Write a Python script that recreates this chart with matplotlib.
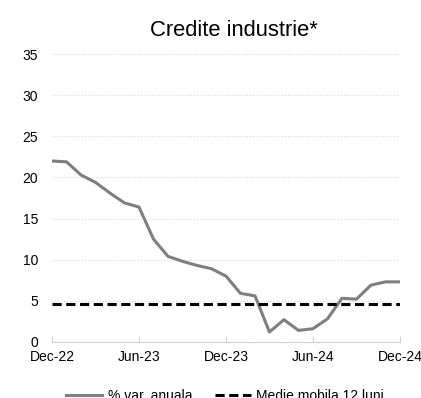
import pandas as pd
import matplotlib
matplotlib.use("Agg")
import matplotlib.pyplot as plt

plt.rcParams["font.family"] = ["Liberation Sans", "DejaVu Sans"]

months = pd.date_range("2022-12-01", "2024-12-01", freq="MS")
var_anuala = [22.0, 21.9, 20.3, 19.4, 18.1, 16.9, 16.4, 12.5, 10.4, 9.8, 9.3, 8.9,
              8.0, 5.9, 5.6, 1.2, 2.7, 1.4, 1.6, 2.8, 5.3, 5.2, 6.9, 7.3, 7.3]
medie_mobila = [4.55] * len(months)
tick_labels = ["Dec-22", "Jun-23", "Dec-23", "Jun-24", "Dec-24"]

fig = plt.figure(figsize=(4.21, 3.98), dpi=100)
ax = fig.add_axes([0.1235, 0.141, 0.8265, 0.723])

x = list(range(len(months)))
ax.plot(x, var_anuala, color="#7f7f7f", lw=2.2, label="% var. anuala")
ax.plot(x, medie_mobila, color="black", lw=2.2, ls=(0, (3, 1.5)), label="Medie mobila 12 luni")

ax.set_xlim(0, len(months) - 1)
ax.set_ylim(0, 35)
ax.set_yticks(range(0, 40, 5))
ax.set_xticks(range(0, len(months), 6))
ax.set_xticklabels(tick_labels)
ax.tick_params(axis="both", labelsize=10, colors="black")
ax.tick_params(axis="y", length=0, pad=10)
ax.tick_params(axis="x", direction="in", length=4, color="#d0d0d0", pad=6)

ax.grid(axis="y", color="#d9d9d9", ls=":", lw=0.8)
for s in ["top", "right", "left"]:
    ax.spines[s].set_visible(False)
ax.spines["bottom"].set_color("#d0d0d0")

ax.set_title("Credite industrie*", fontsize=15.8, pad=13, x=0.523)

fig.legend(loc="center", bbox_to_anchor=(0.535, 0.005), ncol=2, frameon=False,
           fontsize=10, handlelength=2.6, handletextpad=0.4, columnspacing=1.6)

fig.savefig("out.png", dpi=100)
